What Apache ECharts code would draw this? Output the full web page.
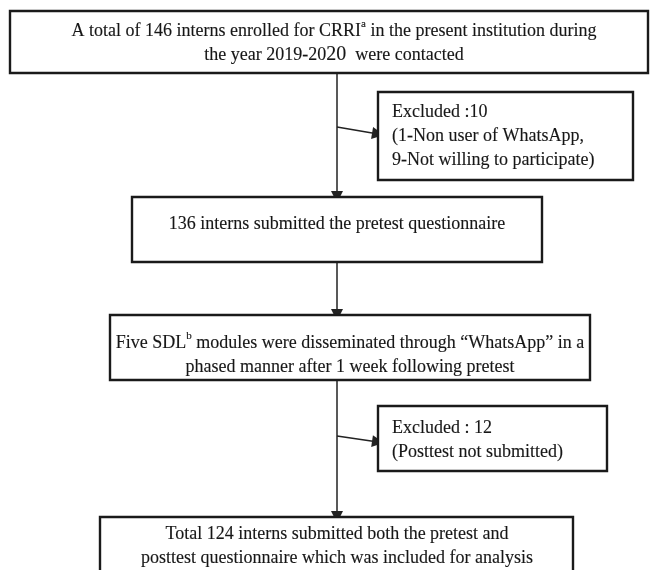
<!DOCTYPE html>
<html>
<head>
<meta charset="utf-8">
<script src="https://cdn.jsdelivr.net/npm/echarts@6/dist/echarts.min.js"></script>
<style>html,body{margin:0;padding:0;background:#fff}#c{width:652px;height:570px}</style>
</head>
<body>
<div id="c"></div>
<script>
// ---- content (texts of the flow boxes) ----
var boxNames = ['enrolled', 'excluded1', 'pretest', 'modules', 'excluded2', 'analysed'];
var boxTexts = [
  'A total of 146 interns enrolled for CRRI{sup|a} in the present institution during\nthe year 2019-20{big|20}  were contacted',
  'Excluded :10\n(1-Non user of WhatsApp,\n9-Not willing to participate)',
  '136 interns submitted the pretest questionnaire',
  'Five SDL{sup|b} modules were disseminated through \u201cWhatsApp\u201d in a\nphased manner after 1 week following pretest',
  'Excluded : 12\n(Posttest not submitted)',
  'Total 124 interns submitted both the pretest and\nposttest questionnaire which was included for analysis'
];
var counts = [146, 10, 136, 136, 12, 124];
// flow links: [from, to]
var links = [[0, 2], [0, 1], [2, 3], [3, 5], [3, 4]];

// ---- layout (positions only, in page units) ----
// box: x0, y0, x1, y1, textX, textY(top of first line), align
var boxLayout = [
  [10, 11, 648, 73, 334, 19, 'center'],
  [378, 92, 633, 180, 392, 100, 'left'],
  [132, 197, 542, 262, 337, 212, 'center'],
  [110, 315, 590, 380, 350, 331, 'center'],
  [378, 406, 607, 471, 392, 416, 'left'],
  [100, 517, 573, 600, 337, 522, 'center']
];
// connector segments: x0, y0, x1, y1
var linkLayout = [
  [337, 73, 337, 197],
  [337, 127, 378, 134],
  [337, 262, 337, 315],
  [337, 380, 337, 517],
  [337, 436, 378, 442]
];

var boxData = boxLayout.map(function (b, i) {
  return { name: boxNames[i], value: [b[0], b[1], b[2], b[3], counts[i]] };
});
var lineData = links.map(function (l, i) {
  var s = linkLayout[i];
  return { name: boxNames[l[0]] + '>' + boxNames[l[1]], coords: [[s[0], s[1]], [s[2], s[3]]] };
});

var FONT = '"Liberation Serif", "Times New Roman", serif';
var INK = '#161616';
var chart = echarts.init(document.getElementById('c'), null, { renderer: 'canvas' });
chart.setOption({
  animation: false,
  backgroundColor: '#fff',
  grid: { left: 0, right: 0, top: 0, bottom: 0 },
  xAxis: { type: 'value', min: 0, max: 652, show: false },
  yAxis: { type: 'value', min: 0, max: 570, inverse: true, show: false },
  series: [
    {
      type: 'lines',
      coordinateSystem: 'cartesian2d',
      data: lineData,
      symbol: ['none', 'triangle'],
      symbolSize: [0, 12],
      lineStyle: { color: '#222', width: 1.5, opacity: 1, curveness: 0 },
      z: 1
    },
    {
      type: 'custom',
      coordinateSystem: 'cartesian2d',
      data: boxData,
      z: 2,
      renderItem: function (params, api) {
        var i = params.dataIndex;
        var p0 = api.coord([api.value(0), api.value(1)]);
        var p1 = api.coord([api.value(2), api.value(3)]);
        var L = boxLayout[i];
        var tp = api.coord([L[4], L[5]]);
        return {
          type: 'group',
          children: [
            {
              type: 'rect',
              shape: { x: p0[0], y: p0[1], width: p1[0] - p0[0], height: p1[1] - p0[1] },
              style: { fill: '#fff', stroke: '#1a1a1a', lineWidth: 2.4 }
            },
            {
              type: 'text',
              style: {
                text: boxTexts[i],
                x: tp[0], y: tp[1],
                align: L[6], verticalAlign: 'top',
                fontFamily: FONT, fontSize: 18, lineHeight: 24,
                fill: INK, stroke: '#444', lineWidth: 0.15,
                rich: {
                  sup: { fontFamily: FONT, fontSize: 11, lineHeight: 14, verticalAlign: 'top', fill: INK },
                  big: { fontFamily: FONT, fontSize: 20, lineHeight: 24, fill: INK }
                }
              }
            }
          ]
        };
      }
    }
  ]
});
</script>
</body>
</html>
